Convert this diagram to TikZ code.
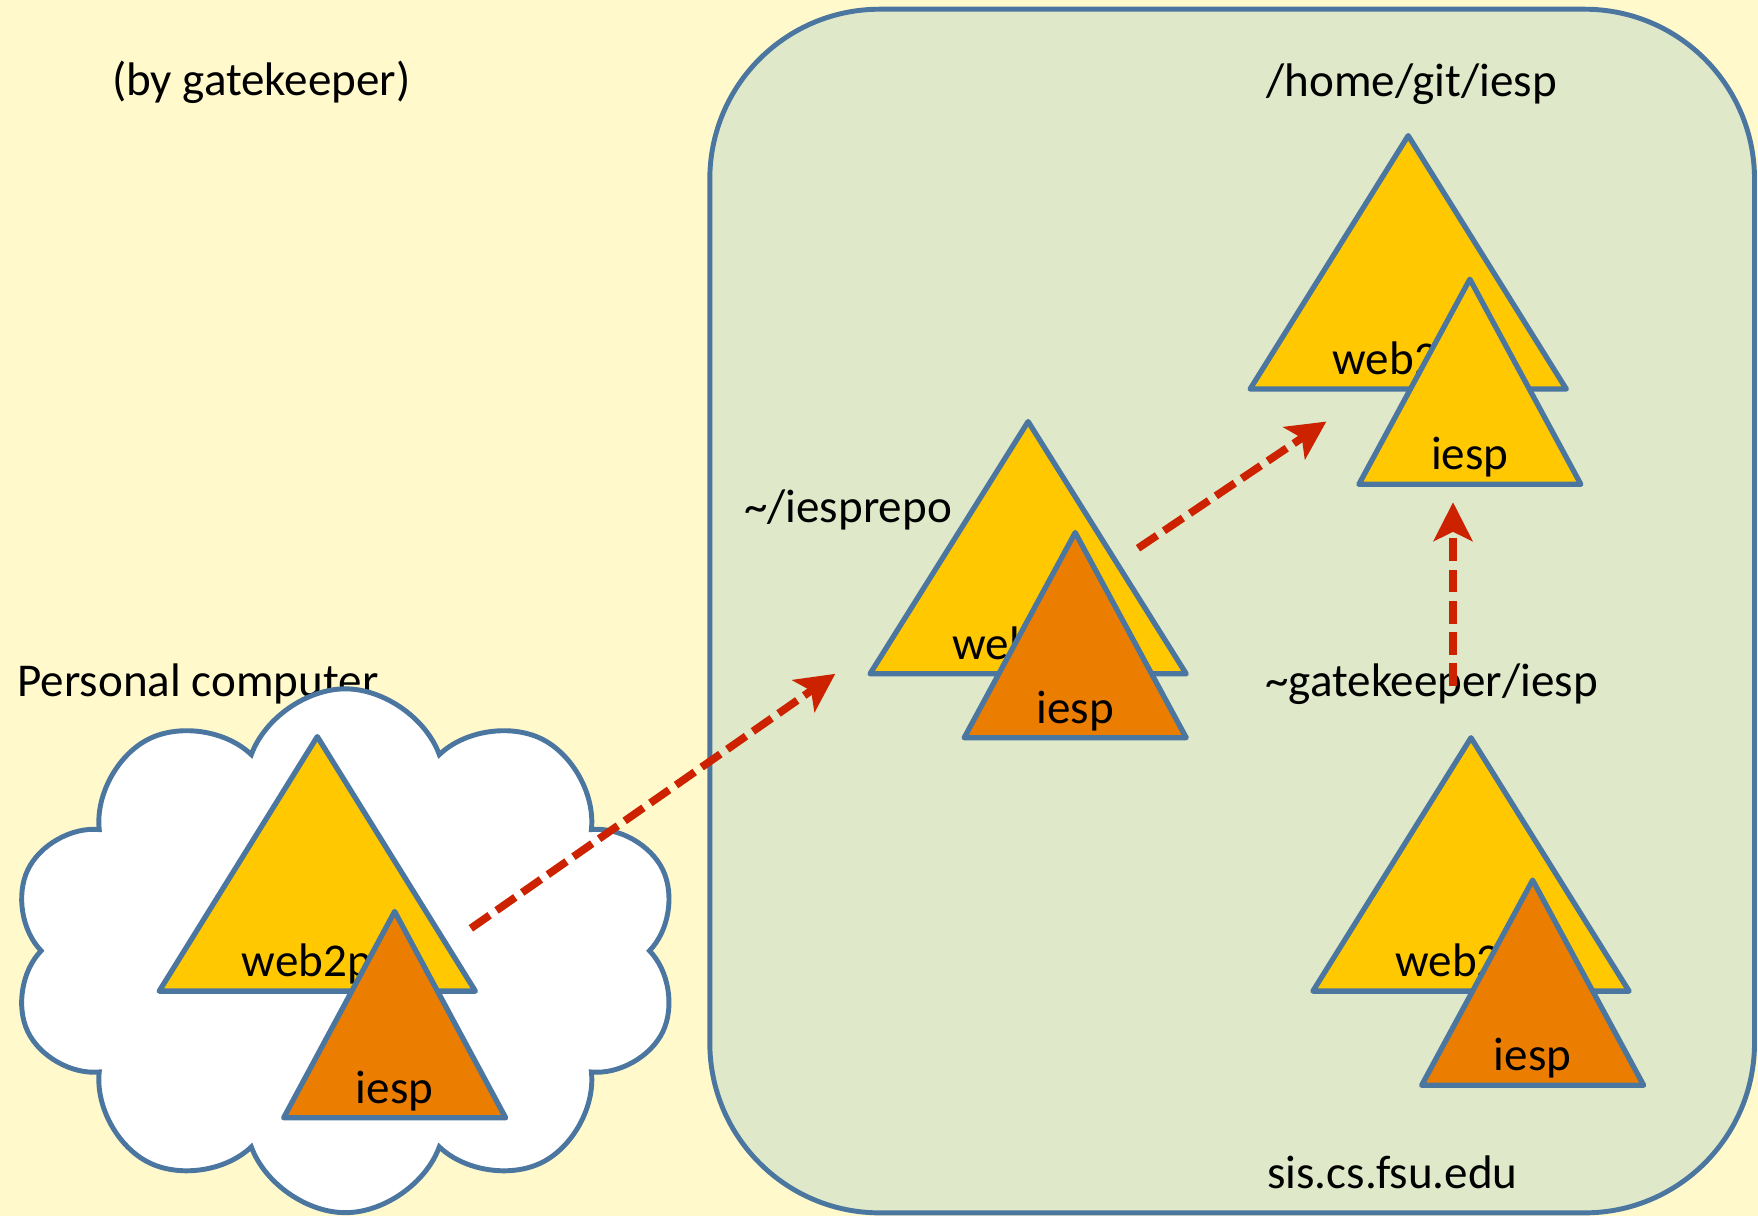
\documentclass[tikz,border=0pt]{standalone}
\usepackage{fontspec}
\setmainfont{Carlito}
\usetikzlibrary{shapes.symbols, arrows.meta, calc, positioning}

\definecolor{slide}{RGB}{255,249,204}
\definecolor{hostfill}{RGB}{223,232,201}
\definecolor{edgeblue}{RGB}{74,118,160}
\definecolor{repoyellow}{RGB}{255,200,0}
\definecolor{repoorange}{RGB}{235,126,0}
\definecolor{pushred}{RGB}{204,34,0}

% repository triangle: name, fill, apex, half width, height, label
\newcommand{\repotri}[6]{%
  \coordinate (#1) at #3;
  \filldraw[tri, fill=#2] (#1) -- ++(-#4,#5) -- ++(2*#4,0) -- cycle;
  \node[lbl] (#1-name) at ($(#1)+(0,#5-13)$) {#6};}

\begin{document}
\begin{tikzpicture}[
    x=0.011212cm, y=-0.011212cm,
    every node/.style={font=\fontsize{13.4}{16}\selectfont, inner sep=0pt},
    host/.style={draw=edgeblue, fill=hostfill, line width=1.4pt, rounded corners=1.7cm, minimum width=10.45cm, minimum height=12.04cm},
    pc/.style={cloud, cloud puffs=10, cloud puff arc=140, aspect=1.3, draw=edgeblue, fill=white, line width=1.4pt, minimum width=6.68cm, minimum height=5.24cm},
    tri/.style={draw=edgeblue, line width=1.5pt, line join=round},
    lbl/.style={anchor=base},
    push/.style={pushred, line width=2.2pt, dash pattern=on 6.5pt off 2.4pt, -{Stealth[length=11pt,width=11pt,inset=2.6pt]}}
]

% Slide background
\fill[slide] (0,0) rectangle (1568,1085);
\useasboundingbox (0,0) rectangle (1568,1085);

% Server
\node[host] (server) at (1099,545) {};
\node[anchor=base] (host) at (1242,1060) {sis.cs.fsu.edu};

% Labels
\node[anchor=base] (who) at (233,85) {(by gatekeeper)};
\node[anchor=base] (bare) at (1259,86) {/home/git/iesp};
\node[anchor=base west] (prepo) at (663,466) {\textasciitilde/iesprepo};
\node[anchor=base west] (gk) at (1128,621) {\textasciitilde gatekeeper/iesp};
\node[anchor=base west] (pcname) at (15,621) {Personal computer};

% Personal computer
\node[pc] (pc) at (308,848) {};

% Repositories
\repotri{pcweb}{repoyellow}{(283,657)}{141}{227}{web2py}
\repotri{pciesp}{repoorange}{(352,813)}{99}{184}{iesp}
\repotri{midweb}{repoyellow}{(917,376)}{141}{225}{web2py}
\repotri{midiesp}{repoorange}{(959,475)}{99}{183}{iesp}
\repotri{bareweb}{repoyellow}{(1256,121)}{141}{226}{web2py}
\repotri{bareiesp}{repoyellow}{(1311,249)}{99}{183}{iesp}
\repotri{gkweb}{repoyellow}{(1312,658)}{141}{226}{web2py}
\repotri{gkiesp}{repoorange}{(1367,785)}{99}{183}{iesp}

% Pushes
\coordinate (pcout) at (420,828);
\coordinate (midin) at (745,601);
\coordinate (midout) at (1015,489);
\coordinate (barein) at (1183,376);
\coordinate (gkout) at (1296,612);
\coordinate (gkin) at (1296,448);
\draw[push] (pcout) -- (midin);
\draw[push] (midout) -- (barein);
\draw[push] (gkout) -- (gkin);

\end{tikzpicture}
\end{document}
